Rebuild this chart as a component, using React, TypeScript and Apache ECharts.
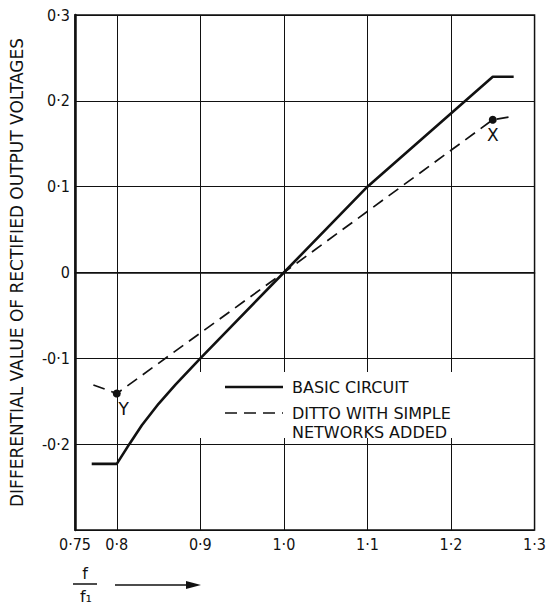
import React, { useEffect, useRef } from "react";
import * as echarts from "echarts";

const basicX = [0.77, 0.8, 0.815, 0.83, 0.85, 0.87, 0.9, 1.0, 1.1, 1.25, 1.275];
const basicY = [-0.223, -0.223, -0.2, -0.178, -0.153, -0.131, -0.1, 0, 0.1, 0.228, 0.228];
const netX = [0.772, 0.8, 1.0, 1.25, 1.275];
const netY = [-0.131, -0.141, 0, 0.178, 0.182];
const pointNames = ["Y", "X"];
const pointX = [0.8, 1.25];
const pointY = [-0.141, 0.178];
const gridXs = [0.8, 0.9, 1.0, 1.1, 1.2];
const seriesNames = ["BASIC CIRCUIT", "DITTO WITH SIMPLE", "NETWORKS ADDED"];
const yTitle = "DIFFERENTIAL VALUE OF RECTIFIED OUTPUT VOLTAGES";

const FONT = "'DejaVu Sans', sans-serif";
const COND = "'DejaVu Sans Condensed', 'DejaVu Sans', sans-serif";

const fmt = (v: number, digits: number) => {
  if (Math.abs(v) < 1e-9) return "0";
  let s = v.toFixed(digits);
  if (digits === 2 && s.endsWith("0")) s = v.toFixed(1);
  return s.replace(".", "\u00b7");
};

export default function App() {
  const ref = useRef<HTMLDivElement>(null);
  useEffect(() => {
    if (!ref.current) return;
    const chart = echarts.init(ref.current, null, { renderer: "svg" });
    const ink = "#111111";
    chart.setOption({
      animation: false,
      backgroundColor: "#ffffff",
      grid: {
        left: 70,
        top: 15,
        width: 473,
        height: 515,
        show: true,
        borderColor: ink,
        borderWidth: 1.5,
        backgroundColor: "transparent",
      },
      xAxis: {
        type: "value",
        min: 0.75,
        max: 1.3,
        interval: 0.05,
        axisLine: { show: true, lineStyle: { color: ink, width: 1.5 } },
        axisTick: { show: false },
        splitLine: { show: false },
        axisLabel: {
          color: ink,
          fontFamily: COND,
          fontSize: 16,
          margin: 6,
          formatter: (v: number) => {
            const t = v * 10;
            if (Math.abs(t - Math.round(t)) < 1e-6 || Math.abs(v - 0.75) < 1e-6)
              return fmt(v, 2);
            return "";
          },
        },
      },
      yAxis: {
        type: "value",
        min: -0.3,
        max: 0.3,
        interval: 0.1,
        name: yTitle,
        nameLocation: "middle",
        nameGap: 50,
        nameTextStyle: { color: ink, fontFamily: FONT, fontSize: 17 },
        axisLine: { show: true, lineStyle: { color: ink, width: 2.5 } },
        axisTick: { show: false },
        splitLine: { show: true, lineStyle: { color: ink, width: 1 } },
        axisLabel: {
          color: ink,
          fontFamily: COND,
          fontSize: 16,
          margin: 5,
          formatter: (v: number) => (v < -0.25 ? "" : fmt(v, 1)),
        },
      },
      series: [
        {
          name: seriesNames[0],
          type: "line",
          data: basicX.map((x, i) => [x, basicY[i]]),
          showSymbol: false,
          symbol: "none",
          lineStyle: { color: ink, width: 2.6 },
          z: 5,
          markLine: {
            silent: true,
            symbol: "none",
            label: { show: false },
            lineStyle: { color: ink, width: 1, type: "solid" },
            data: gridXs.map((x) => ({ xAxis: x })),
            z: 1,
          },
        },
        {
          name: seriesNames[1],
          type: "line",
          data: netX.map((x, i) => [x, netY[i]]),
          showSymbol: false,
          symbol: "none",
          lineStyle: { color: ink, width: 1.7, type: [12, 7] },
          z: 5,
        },
        {
          type: "scatter",
          data: pointX.map((x, i) => ({ value: [x, pointY[i]], name: pointNames[i] })),
          symbolSize: 8,
          itemStyle: { color: ink, opacity: 1 },
          z: 6,
          label: {
            show: true,
            formatter: (p: any) => p.name,
            position: "bottom",
            distance: 3,
            color: ink,
            opacity: 1,
            fontFamily: FONT,
            fontSize: 17,
          },
          labelLayout: (p: any) => (p.dataIndex === 0 ? { dx: 7 } : { dx: 0 }),
        },
      ],
      graphic: [
        {
          type: "rect",
          z: 100,
          shape: { x: 196, y: 372, width: 272, height: 66 },
          style: { fill: "#ffffff" },
        },
        {
          type: "line",
          z: 101,
          shape: { x1: 225, y1: 387, x2: 283, y2: 387 },
          style: { stroke: ink, lineWidth: 2.6 },
        },
        {
          type: "line",
          z: 101,
          shape: { x1: 225, y1: 413, x2: 283, y2: 413 },
          style: { stroke: ink, lineWidth: 1.7, lineDash: [12, 7] },
        },
        {
          type: "text",
          z: 101,
          x: 292,
          y: 387,
          style: { text: seriesNames[0], fill: ink, font: `16px ${FONT}`, verticalAlign: "middle" },
        },
        {
          type: "text",
          z: 101,
          x: 292,
          y: 413,
          style: { text: seriesNames[1], fill: ink, font: `16px ${FONT}`, verticalAlign: "middle" },
        },
        {
          type: "text",
          z: 101,
          x: 292,
          y: 432,
          style: { text: seriesNames[2], fill: ink, font: `16px ${FONT}`, verticalAlign: "middle" },
        },
        {
          type: "text",
          z: 101,
          x: 85,
          y: 573,
          style: { text: "f", fill: ink, font: `16px ${FONT}`, align: "center", verticalAlign: "middle" },
        },
        {
          type: "line",
          z: 101,
          shape: { x1: 73, y1: 584, x2: 97, y2: 584 },
          style: { stroke: ink, lineWidth: 1.5 },
        },
        {
          type: "text",
          z: 101,
          x: 86,
          y: 596,
          style: { text: "f\u2081", fill: ink, font: `16px ${FONT}`, align: "center", verticalAlign: "middle" },
        },
        {
          type: "line",
          z: 101,
          shape: { x1: 115, y1: 585, x2: 192, y2: 585 },
          style: { stroke: ink, lineWidth: 1.5 },
        },
        {
          type: "polygon",
          z: 101,
          shape: { points: [[186, 581], [201, 585], [186, 589]] },
          style: { fill: ink },
        },
      ],
    });
    return () => chart.dispose();
  }, []);
  return (
    <div
      ref={ref}
      style={{ position: "fixed", left: 0, top: 0, width: 549, height: 606 }}
    />
  );
}
